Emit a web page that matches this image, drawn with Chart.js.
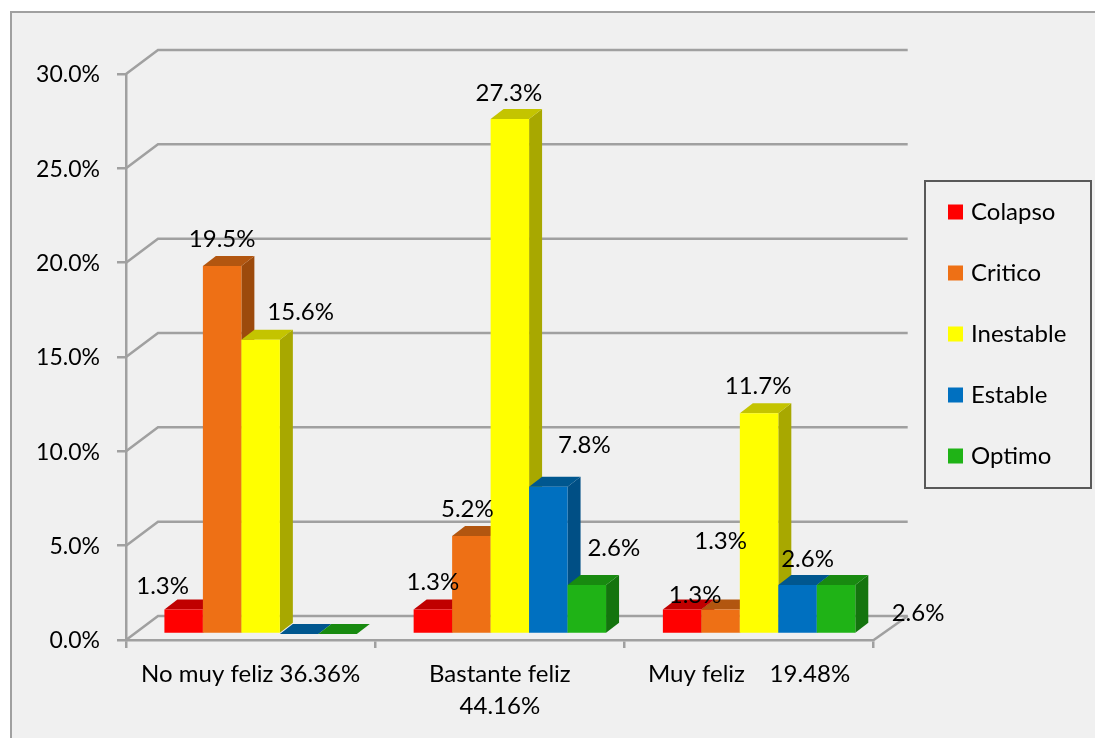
<!DOCTYPE html>
<html>
<head>
<meta charset="utf-8">
<title>Felicidad por estado</title>
<script src="https://cdn.jsdelivr.net/npm/chart.js@4/dist/chart.umd.min.js"></script>
<style>
  html, body { margin: 0; padding: 0; background: #fff; }
  canvas { display: block; }
</style>
</head>
<body>
<canvas id="bar-chart" width="1095" height="738"></canvas>
<script>
const categories = ['No muy feliz 36.36%', ['Bastante feliz', '44.16%'], 'Muy feliz    19.48%'];
const seriesNames = ['Colapso', 'Critico', 'Inestable', 'Estable', 'Optimo'];
const colapso = [1.3, 1.3, 1.3];
const critico = [19.5, 5.2, 1.3];
const inestable = [15.6, 27.3, 11.7];
const estable = [0, 7.8, 2.6];
const optimo = [0, 2.6, 2.6];
const seriesValues = [colapso, critico, inestable, estable, optimo];

const frontColors = ['#ff0000', '#ee7015', '#ffff00', '#0070c0', '#1fb316'];
const topColors = ['#c00000', '#b25610', '#c4c400', '#00578f', '#188a10'];
const sideColors = ['#a80000', '#9c4a0c', '#a8a800', '#004f85', '#14740e'];

// where each value label sits relative to the top of its bar (the labels are scattered in the original)
const labelShift = [
  [[-21, -23], [0, -27], [13, -14]],
  [[0, -27], [-4, -27], [0, -68]],
  [[40, -27], [-1, -26], [-1, -27]],
  [null, [36, -42], [10, -26]],
  [null, [27, -37], [82, 28]]
];

const axisColor = '#a0a0a0';
const fontName = 'Lato';
const fontSize = 24;
const wallX = 32, wallY = -24;      // depth of the side walls
const depthX = 13, depthY = -10;    // depth of one bar
const barShiftX = 10, barShiftY = -6;  // bars stand inside the floor, not on its front edge

const wallsAndBars = {
  id: 'wallsAndBars',
  beforeDraw(chart) {
    const ctx = chart.ctx;
    ctx.save();
    ctx.fillStyle = '#f0f0f0';
    ctx.fillRect(11, 12, chart.width - 11, chart.height - 12);
    ctx.strokeStyle = axisColor;
    ctx.lineWidth = 2;
    ctx.beginPath();
    ctx.moveTo(11, chart.height);
    ctx.lineTo(11, 12);
    ctx.lineTo(chart.width, 12);
    ctx.stroke();
    ctx.restore();
  },
  afterLayout(chart) {
    const legend = chart.legend;
    legend.left = 915;
    legend.right = 1091;
    legend.top = 163;
    legend.bottom = chart.height;
  },
  beforeDatasetsDraw(chart) {
    const ctx = chart.ctx;
    const area = chart.chartArea;
    const y = chart.scales.y;
    ctx.save();
    ctx.strokeStyle = axisColor;
    ctx.lineWidth = 2.5;
    y.ticks.forEach(t => {
      const py = y.getPixelForValue(t.value);
      ctx.beginPath();
      ctx.moveTo(area.left, py);
      ctx.lineTo(area.left + wallX, py + wallY);
      ctx.lineTo(area.right + wallX + 2, py + wallY);
      ctx.stroke();
    });
    ctx.beginPath();
    ctx.moveTo(area.right, area.bottom);
    ctx.lineTo(area.right + wallX + 2, area.bottom + wallY);
    ctx.stroke();

    // legend frame
    ctx.strokeStyle = '#595959';
    ctx.lineWidth = 2;
    ctx.strokeRect(925, 181, 166, 307);
    ctx.restore();
  },
  // bars are painted here from left to right so each one hides the side of the previous one
  beforeDatasetDraw() {
    return false;
  },
  afterDatasetsDraw(chart) {
    const ctx = chart.ctx;
    ctx.save();
    ctx.translate(barShiftX, barShiftY);
    categories.forEach((c, i) => {
      seriesValues.forEach((values, s) => {
        const bar = chart.getDatasetMeta(s).data[i];
        const left = bar.x - bar.width / 2;
        const right = bar.x + bar.width / 2;
        ctx.fillStyle = sideColors[s];
        ctx.beginPath();
        ctx.moveTo(right, bar.y);
        ctx.lineTo(right + depthX, bar.y + depthY);
        ctx.lineTo(right + depthX, bar.base + depthY);
        ctx.lineTo(right, bar.base);
        ctx.closePath();
        ctx.fill();
        ctx.fillStyle = topColors[s];
        ctx.beginPath();
        ctx.moveTo(left, bar.y);
        ctx.lineTo(left + depthX, bar.y + depthY);
        ctx.lineTo(right + depthX, bar.y + depthY);
        ctx.lineTo(right, bar.y);
        ctx.closePath();
        ctx.fill();
        bar.draw(ctx);
      });
    });
    ctx.fillStyle = '#000';
    ctx.font = fontSize + 'px ' + fontName;
    ctx.textAlign = 'center';
    ctx.textBaseline = 'middle';
    seriesValues.forEach((values, s) => {
      values.forEach((v, i) => {
        const shift = labelShift[s][i];
        if (!shift) return;
        const bar = chart.getDatasetMeta(s).data[i];
        ctx.fillText(v.toFixed(1) + '%', bar.x + shift[0], bar.y + shift[1]);
      });
    });
    ctx.restore();
  }
};

Chart.defaults.font.family = fontName;
Chart.defaults.font.size = fontSize;
Chart.defaults.color = '#000';

new Chart(document.getElementById('bar-chart'), {
  type: 'bar',
  data: {
    labels: categories,
    datasets: seriesNames.map((name, s) => ({
      label: name,
      data: seriesValues[s],
      backgroundColor: frontColors[s],
      borderWidth: 0,
      categoryPercentage: 0.772,
      barPercentage: 1
    }))
  },
  options: {
    responsive: false,
    animation: false,
    layout: { padding: { top: 74, right: 60, bottom: 0, left: 0 } },
    plugins: {
      tooltip: { enabled: false },
      legend: {
        position: 'right',
        align: 'start',
        labels: {
          boxWidth: 7,
          boxHeight: 7,
          padding: 37,
          font: { size: fontSize, family: fontName },
          // thick outline in the fill colour makes a 15px swatch with a tight gap to the text
          generateLabels(chart) {
            return Chart.defaults.plugins.legend.labels.generateLabels(chart).map(item => ({
              ...item,
              strokeStyle: item.fillStyle,
              lineWidth: 8
            }));
          }
        }
      }
    },
    scales: {
      x: {
        afterFit(scale) { scale.height = 98; },
        grid: { drawOnChartArea: false, color: axisColor, lineWidth: 2.5, tickLength: 8 },
        border: { color: axisColor, width: 2.5 },
        ticks: {
          autoSkip: false,
          maxRotation: 0,
          padding: 10,
          font: { size: fontSize, family: fontName, lineHeight: 1.33 }
        }
      },
      y: {
        min: 0,
        max: 30,
        afterFit(scale) { scale.width = 126; },
        grid: { drawOnChartArea: false, color: axisColor, lineWidth: 2.5, tickLength: 9 },
        border: { color: axisColor, width: 2.5 },
        ticks: {
          stepSize: 5,
          padding: 17,
          labelOffset: 1,
          font: { size: 23, family: fontName },
          callback: v => v.toFixed(1) + '%'
        }
      }
    }
  },
  plugins: [wallsAndBars]
});
</script>
</body>
</html>
